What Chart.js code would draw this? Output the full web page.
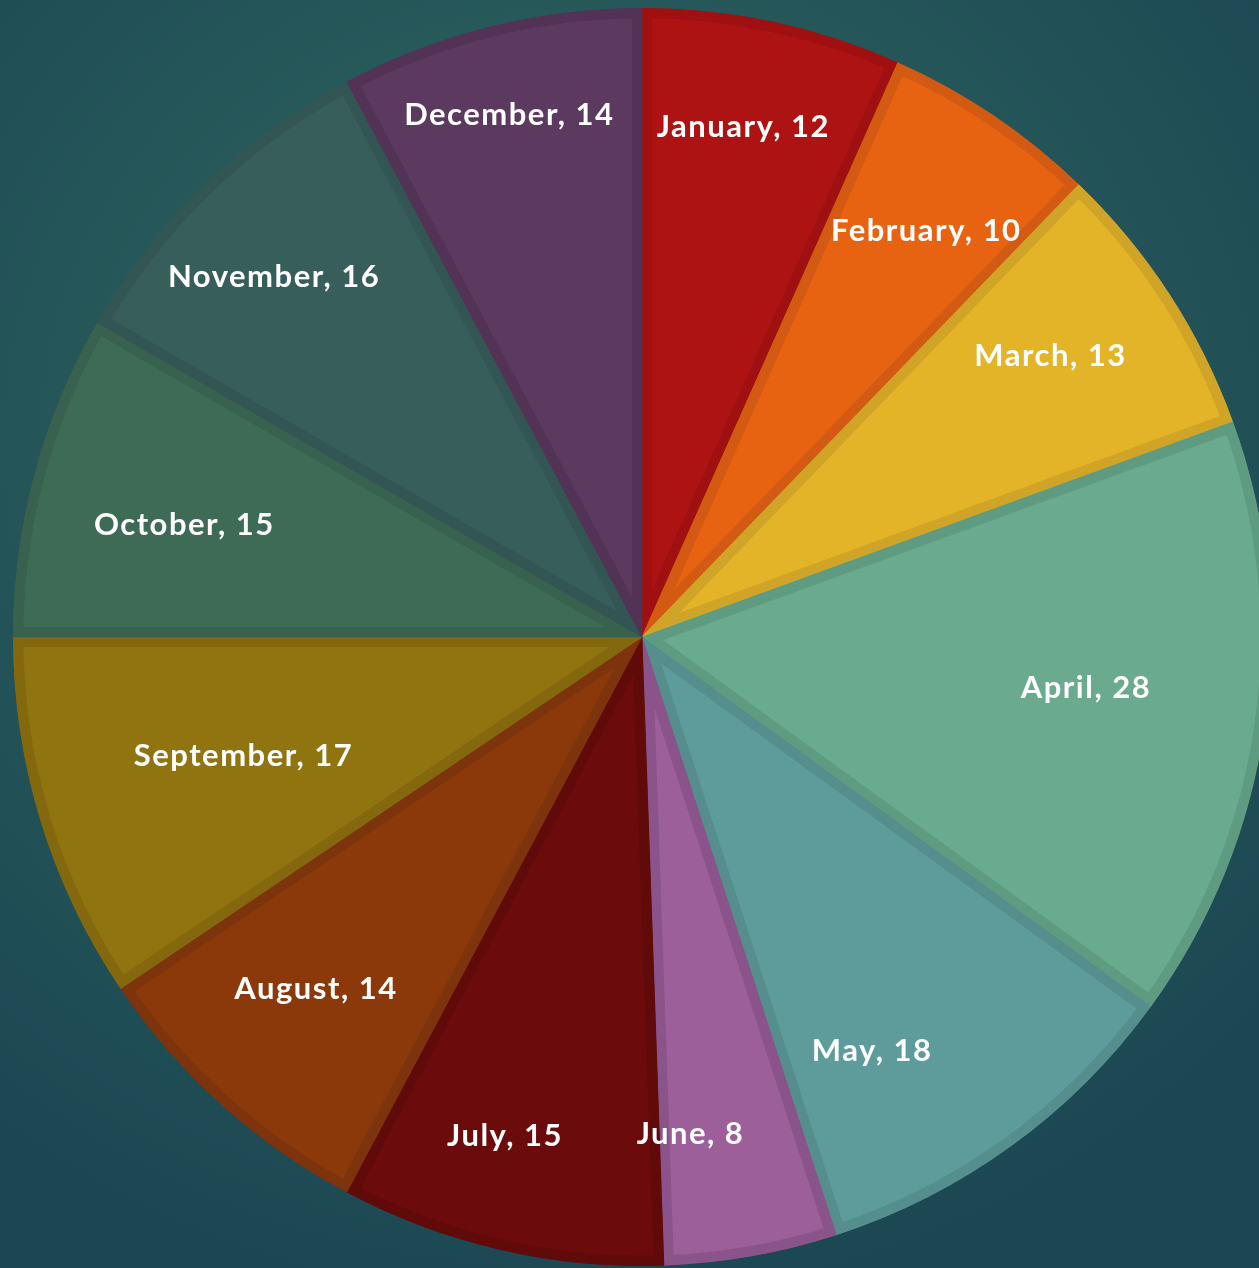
<!DOCTYPE html>
<html>
<head>
<meta charset="utf-8">
<script src="https://cdn.jsdelivr.net/npm/chart.js@4.4.1/dist/chart.umd.min.js"></script>
<style>
  html, body { margin: 0; padding: 0; width: 1259px; height: 1268px; overflow: hidden; }
  body {
    background: radial-gradient(ellipse 75% 70% at 45% 35%, #2b5f5f 0%, #275a5b 45%, #1f4d55 80%, #1b4652 100%);
  }
  #wrap { position: absolute; left: 13px; top: 8px; width: 1258px; height: 1258px; }
</style>
</head>
<body>
<div id="wrap"><canvas id="c"></canvas></div>
<script>
const categories = ['January','February','March','April','May','June','July','August','September','October','November','December'];
const values = [12, 10, 13, 28, 18, 8, 15, 14, 17, 15, 16, 14];

const fillColors = ['#AE1313','#E86311','#E3B427','#6AAB8F','#5D9C9A','#9C5F9A','#6C0B0B','#8B390A','#90740F','#3E6B56','#385E5C','#5C395E'];
const borderColors = ['#A01010','#D35A12','#D0A527','#5E9B81','#558E8C','#8A5389','#610A0A','#7D330B','#83680E','#39614F','#335554','#523355'];

// label placement: fraction of radius and small angular nudge (degrees)
const labelRadius = [0.83, 0.79, 0.79, 0.71, 0.75, 0.79, 0.82, 0.76, 0.66, 0.75, 0.82, 0.86];
const labelNudge = [-0.8, 0.9, -1.7, -1.7, 6.8, 4.4, 2.4, 1.0, 0.7, -1.0, -1.5, -0.2];

const sliceLabels = {
  id: 'sliceLabels',
  afterDatasetsDraw(chart) {
    const ctx = chart.ctx;
    const meta = chart.getDatasetMeta(0);
    ctx.save();
    ctx.fillStyle = '#ffffff';
    ctx.font = 'bold 31px Lato, "Open Sans", sans-serif';
    ctx.letterSpacing = '1.5px';
    ctx.textAlign = 'center';
    ctx.textBaseline = 'middle';
    meta.data.forEach((arc, i) => {
      const p = arc.getProps(['x','y','startAngle','endAngle','outerRadius'], true);
      const mid = (p.startAngle + p.endAngle) / 2 + labelNudge[i] * Math.PI / 180;
      const r = p.outerRadius * labelRadius[i];
      const x = p.x + Math.cos(mid) * r;
      const y = p.y + Math.sin(mid) * r + 2;
      ctx.fillText(categories[i] + ', ' + values[i], x, y);
    });
    ctx.restore();
  }
};

new Chart(document.getElementById('c'), {
  type: 'pie',
  data: {
    labels: categories,
    datasets: [{
      data: values,
      backgroundColor: fillColors,
      borderColor: borderColors,
      borderWidth: 10,
      borderAlign: 'inner'
    }]
  },
  options: {
    responsive: true,
    maintainAspectRatio: false,
    animation: false,
    layout: { padding: 0 },
    plugins: { legend: { display: false }, tooltip: { enabled: false } }
  },
  plugins: [sliceLabels]
});
</script>
</body>
</html>
